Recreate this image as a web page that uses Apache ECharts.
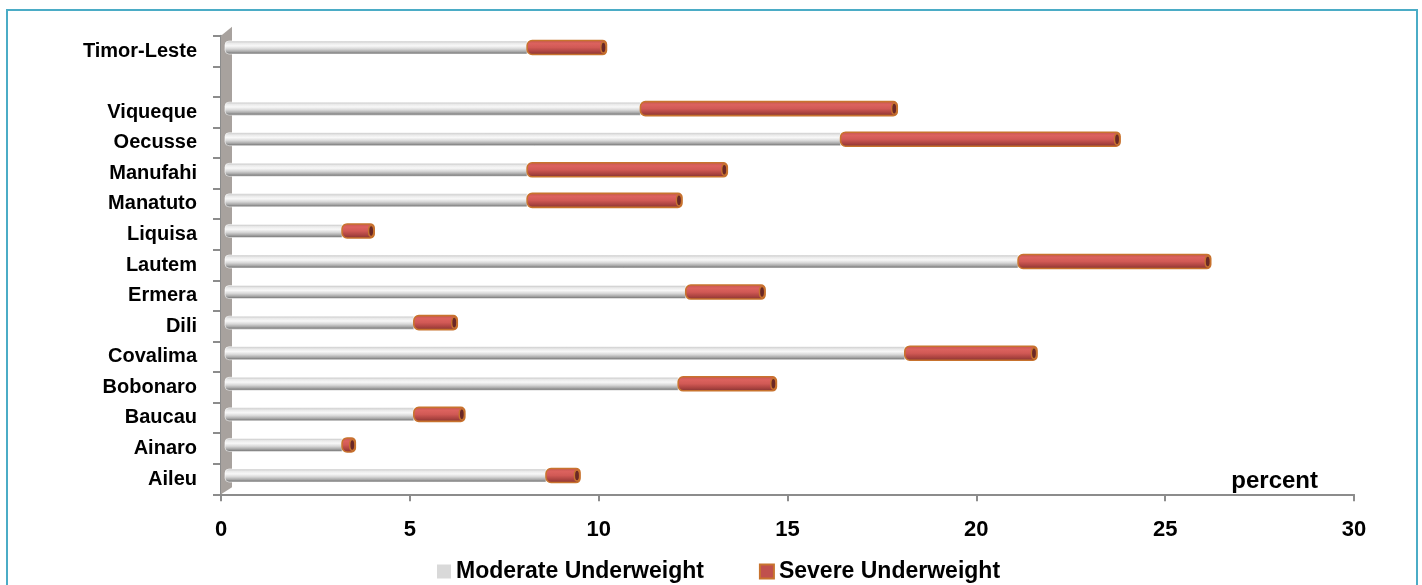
<!DOCTYPE html>
<html>
<head>
<meta charset="utf-8">
<title>Underweight by district</title>
<script src="https://cdn.jsdelivr.net/npm/echarts@6/dist/echarts.min.js"></script>
<style>
  html, body { margin: 0; padding: 0; background: #ffffff; }
  #chart { width: 1422px; height: 585px; }
</style>
</head>
<body>
<div id="chart"></div>
<script>
// Districts, bottom to top; the blank entry separates the national figure.
const categories = ['Aileu', 'Ainaro', 'Baucau', 'Bobonaro', 'Covalima', 'Dili', 'Ermera',
  'Lautem', 'Liquisa', 'Manatuto', 'Manufahi', 'Oecusse', 'Viqueque', '', 'Timor-Leste'];

// Percent of children, by severity
const moderate = [8.5, 3.1, 5.0, 12.0, 18.0, 5.0, 12.2, 21.0, 3.1, 8.0, 8.0, 16.3, 11.0, null, 8.0];
const severe   = [0.9, 0.35, 1.35, 2.6, 3.5, 1.15, 2.1, 5.1, 0.85, 4.1, 5.3, 7.4, 6.8, null, 2.1];

const xTicks = { min: 0, max: 30, interval: 5 };
const seriesNames = ['Moderate Underweight', 'Severe Underweight'];

const FONT = "'Liberation Sans', Arial, sans-serif";

// stacked segments: [category index, start, end]
const moderateData = categories.map((c, i) => moderate[i] == null ? [i, null, null] : [i, 0, moderate[i]]);
const severeData = categories.map((c, i) => severe[i] == null ? [i, null, null] :
  [i, moderate[i], moderate[i] + severe[i]]);

const G = echarts.graphic;
const DX = 4, DY = -3.5, H = 13;

function grayFill() {
  return new G.LinearGradient(0, 0, 0, 1, [
    { offset: 0, color: '#bdbdbd' },
    { offset: 0.18, color: '#e9e9e9' },
    { offset: 0.38, color: '#f8f8f8' },
    { offset: 0.6, color: '#d8d8d8' },
    { offset: 0.8, color: '#a9a9a9' },
    { offset: 1, color: '#646464' }
  ]);
}
function redFill() {
  return new G.LinearGradient(0, 0, 0, 1, [
    { offset: 0, color: '#c2534f' },
    { offset: 0.25, color: '#dc625e' },
    { offset: 0.5, color: '#d15955' },
    { offset: 0.78, color: '#a9423f' },
    { offset: 1, color: '#7c312f' }
  ]);
}

function cylinder(kind) {
  return function (params, api) {
    const a = api.value(1), b = api.value(2);
    if (b == null || isNaN(b)) return null;
    const cat = api.value(0);
    const s = api.coord([a, cat]);
    const e = api.coord([b, cat]);
    const x0 = s[0] + DX, x1 = e[0] + DX;
    const y = s[1] + DY - H / 2;
    if (kind === 'moderate') {
      return {
        type: 'rect',
        shape: { x: x0, y: y, width: x1 - x0, height: H, r: [4, 0, 0, 4] },
        style: { fill: grayFill(), stroke: '#ffffff', lineWidth: 0.6 }
      };
    }
    return {
      type: 'group',
      children: [
        {
          type: 'rect',
          shape: { x: x0, y: y - 0.5, width: x1 - x0, height: H + 1, r: [5, 4, 4, 5] },
          style: { fill: redFill(), stroke: '#c8732e', lineWidth: 1.6 }
        },
        {
          type: 'ellipse',
          shape: { cx: x1 - 3, cy: y + H / 2, rx: 2.6, ry: H / 2 - 1 },
          style: { fill: '#6a2826', stroke: '#c8732e', lineWidth: 1.4 }
        }
      ]
    };
  };
}

// side wall of the plot, drawn from the grid rectangle
function wall(params, api) {
  const cs = params.coordSys;
  const l = cs.x, t = cs.y, b = cs.y + cs.height;
  return {
    type: 'polygon',
    shape: { points: [[l, t], [l + 11, t - 9], [l + 11, b - 7], [l, b]] },
    style: { fill: '#a8a29e' }
  };
}

const chart = echarts.init(document.getElementById('chart'), null, { renderer: 'canvas' });

chart.setOption({
  backgroundColor: '#ffffff',
  animation: false,
  textStyle: { fontFamily: FONT },
  graphic: [{
    type: 'rect',
    shape: { x: 7, y: 10, width: 1410, height: 620 },
    style: { fill: 'none', stroke: '#4bacc6', lineWidth: 2 },
    z: -1
  }],
  grid: { left: 221, right: 68, top: 35.7, bottom: 90.7 },
  legend: {
    data: seriesNames,
    left: 432,
    top: 555,
    itemWidth: 14,
    itemHeight: 14,
    itemGap: 55,
    icon: 'rect',
    textStyle: { fontFamily: FONT, fontWeight: 'bold', fontSize: 23, color: '#000000' }
  },
  xAxis: {
    type: 'value',
    min: xTicks.min, max: xTicks.max, interval: xTicks.interval,
    name: 'percent',
    nameLocation: 'end',
    nameGap: -36,
    nameTextStyle: {
      fontFamily: FONT, fontWeight: 'bold', fontSize: 24, color: '#000000',
      align: 'right', verticalAlign: 'bottom', lineHeight: 26
    },
    axisLine: { show: true, lineStyle: { color: '#8c8c8c', width: 2 } },
    axisTick: { show: true, length: 7, lineStyle: { color: '#8c8c8c', width: 2 } },
    axisLabel: { fontFamily: FONT, fontWeight: 'bold', fontSize: 22, color: '#000000', margin: 25 },
    splitLine: { show: false }
  },
  yAxis: {
    type: 'category',
    data: categories,
    axisLine: { show: true, lineStyle: { color: '#8c8c8c', width: 2 } },
    axisTick: { show: true, length: 8, lineStyle: { color: '#8c8c8c', width: 2 } },
    axisLabel: { fontFamily: FONT, fontWeight: 'bold', fontSize: 20, color: '#000000', margin: 24 }
  },
  series: [
    {
      type: 'custom',
      name: 'wall',
      renderItem: wall,
      data: [[0, 0]],
      clip: false,
      silent: true,
      z: 1
    },
    {
      type: 'custom',
      name: seriesNames[0],
      renderItem: cylinder('moderate'),
      encode: { x: [1, 2], y: 0 },
      data: moderateData,
      itemStyle: { color: '#d9d9d9' },
      clip: false,
      z: 2
    },
    {
      type: 'custom',
      name: seriesNames[1],
      renderItem: cylinder('severe'),
      encode: { x: [1, 2], y: 0 },
      data: severeData,
      itemStyle: { color: '#c0504d', borderColor: '#c8732e', borderWidth: 1.5 },
      clip: false,
      z: 3
    }
  ]
});
</script>
</body>
</html>
